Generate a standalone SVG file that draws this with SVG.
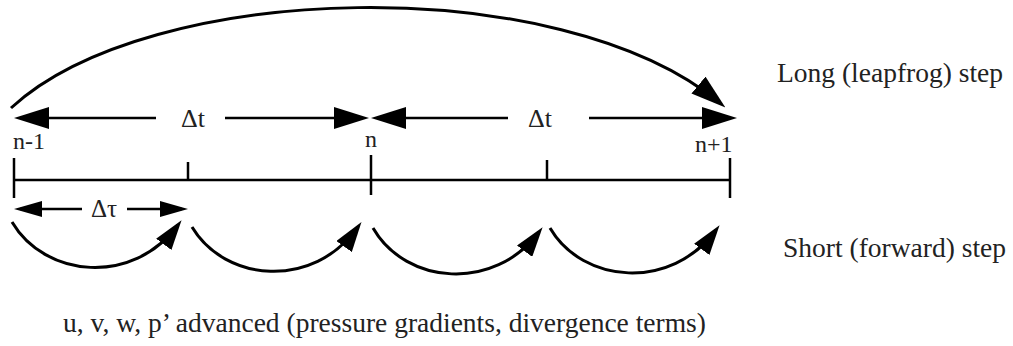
<svg xmlns="http://www.w3.org/2000/svg" width="1013" height="346" viewBox="0 0 1013 346">
<style>
  .ln { fill: none; stroke: #000; stroke-width: 2.5; }
  .arc { fill: none; stroke: #000; stroke-width: 3; }
  text { font-family: 'Liberation Serif', 'DejaVu Serif', 'Times New Roman', serif; fill: #222; }
</style>
<defs>
  <marker id="big" markerUnits="userSpaceOnUse" viewBox="0 0 35 22" refX="28" refY="11" markerWidth="35" markerHeight="22" orient="auto-start-reverse">
    <path d="M0,0 L35,11 L0,22 z" fill="#000"/>
  </marker>
  <marker id="med" markerUnits="userSpaceOnUse" viewBox="0 0 30 19" refX="24" refY="9.5" markerWidth="30" markerHeight="19" orient="auto">
    <path d="M0,0 L30,9.5 L0,19 z" fill="#000"/>
  </marker>
  <marker id="small" markerUnits="userSpaceOnUse" viewBox="0 0 28 16" refX="22" refY="8" markerWidth="28" markerHeight="16" orient="auto-start-reverse">
    <path d="M0,0 L28,8 L0,16 z" fill="#000"/>
  </marker>
</defs>

<g id="connectors">
  <path class="arc" d="M11,108 C150,-20 560,-30 720,103" marker-end="url(#big)"/>
  <line class="ln" x1="21" y1="118" x2="156" y2="118" marker-start="url(#big)"/>
  <line class="ln" x1="225" y1="118" x2="362" y2="118" marker-end="url(#big)"/>
  <line class="ln" x1="378" y1="118" x2="508" y2="118" marker-start="url(#big)"/>
  <line class="ln" x1="589" y1="118" x2="730" y2="118" marker-end="url(#big)"/>
  <line class="ln" x1="20" y1="209" x2="82" y2="209" marker-start="url(#small)"/>
  <line class="ln" x1="127" y1="209" x2="182" y2="209" marker-end="url(#small)"/>
  <path class="arc" d="M12,222 C45,278 133,286 178,225" marker-end="url(#med)"/>
  <path class="arc" d="M192,227 C225,282 313,290 358,227" marker-end="url(#med)"/>
  <path class="arc" d="M373,228 C406,285 494,292 539,232" marker-end="url(#med)"/>
  <path class="arc" d="M550,228 C583,284 671,291 716,230" marker-end="url(#med)"/>
</g>

<g id="timeline">
  <line class="ln" x1="14" y1="180" x2="730" y2="180"/>
  <line class="ln" x1="14" y1="158" x2="14" y2="198"/>
  <line class="ln" x1="188" y1="162" x2="188" y2="180"/>
  <line class="ln" x1="371" y1="155" x2="371" y2="195"/>
  <line class="ln" x1="547" y1="160" x2="547" y2="180"/>
  <line class="ln" x1="730" y1="158" x2="730" y2="198"/>
</g>

<g id="labels">
  <text font-family="Liberation Serif, serif" x="13" y="149" font-size="24">n-1</text>
  <text font-family="Liberation Serif, serif" x="371" y="147" font-size="24" text-anchor="middle">n</text>
  <text font-family="Liberation Serif, serif" x="695" y="152" font-size="24">n+1</text>
  <text font-family="Liberation Serif, serif" x="193" y="127" font-size="26" text-anchor="middle">Δt</text>
  <text font-family="Liberation Serif, serif" x="540" y="127" font-size="26" text-anchor="middle">Δt</text>
  <text font-family="Liberation Serif, serif" x="104" y="217" font-size="25" text-anchor="middle">Δτ</text>
</g>

<g id="long-label"><text font-family="Liberation Serif, serif" x="777" y="82" font-size="27.5">Long (leapfrog) step</text></g>
<g id="short-label"><text font-family="Liberation Serif, serif" x="783" y="257" font-size="27.5">Short (forward) step</text></g>
<g id="caption"><text font-family="Liberation Serif, serif" x="63" y="332" font-size="27.5">u, v, w, p’ advanced (pressure gradients, divergence terms)</text></g>
</svg>
